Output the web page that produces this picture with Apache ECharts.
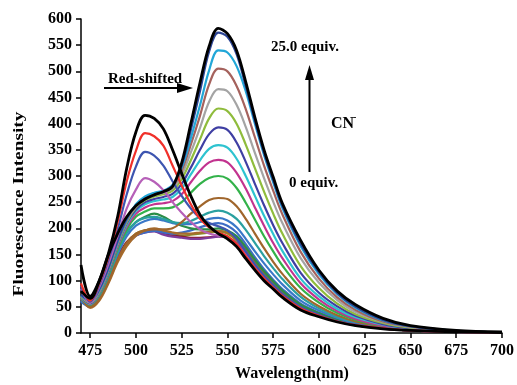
<!DOCTYPE html>
<html><head><meta charset="utf-8">
<script src="https://cdn.jsdelivr.net/npm/echarts@6/dist/echarts.min.js"></script>
<style>html,body{margin:0;padding:0;background:#fff}#c{width:517px;height:385px}</style>
</head><body><div id="c"></div>
<script>
// Wavelength grid (nm)
const wavelengths = [470,475,480,485,490,495,500,505,510,515,520,525,530,535,540,545,550,555,560,565,570,575,580,590,600,610,620,635,650,675,700];
const xTickValues = [475,500,525,550,575,600,625,650,675,700];

// Series (fluorescence intensity)
const blackA  = [130,70,100,152,222,315,384,416,410,390,350,305,262,226,204,190,180,165,142,120,100,84,68,44,31,21,14,8,5,2,1];
const red     = [95,62,96,146,212,290,348,382,376,358,320,282,246,218,202,192,185,170,147,124,104,87,71,47,33,22,15,9,5,2,1];
const blue1   = [90,60,92,140,198,265,318,346,339,320,290,262,238,220,210,204,196,180,156,131,110,92,75,50,35,23,16,9,5,2,1];
const violet  = [85,58,88,132,185,238,274,296,289,273,250,230,212,198,190,186,182,170,149,126,106,89,73,48,34,22,15,9,5,2,1];
const olive   = [68,50,66,100,142,172,190,196,198,194,190,186,188,190,192,194,190,177,156,133,112,94,77,51,36,24,16,9,5,2,1];
const darkred = [64,52,68,102,145,174,188,193,195,190,186,184,182,182,183,185,182,171,151,128,108,90,74,49,34,23,15,9,5,2,1];
const purple  = [62,52,67,100,140,170,186,192,194,188,184,182,180,180,182,184,182,172,152,130,109,91,75,50,35,23,15,9,5,2,1];
const blueL   = [60,50,65,98,138,168,186,192,195,192,190,192,196,202,207,210,205,192,170,145,122,102,84,56,39,26,17,10,6,2,1];
const orangeL = [70,48,62,95,135,166,186,196,200,196,192,190,190,192,194,195,192,181,160,136,114,96,79,52,37,24,16,9,5,2,1];
const dkgreen = [66,54,72,108,155,192,212,222,228,222,212,205,200,198,198,200,196,185,164,140,118,99,81,54,38,25,17,10,6,2,1];
const blue2   = [62,52,70,105,150,185,205,214,218,215,210,208,208,212,218,220,215,202,180,156,133,112,93,62,43,29,19,11,6,2,1];
const teal    = [64,54,72,108,155,192,212,220,222,218,212,210,214,222,230,234,230,218,197,172,147,124,103,69,47,31,21,12,6,2,1];
const brown   = [66,50,64,98,140,172,190,196,198,198,200,212,228,242,254,258,256,242,218,190,162,136,113,75,51,34,22,12,7,2,1];
const green   = [65,54,74,112,160,198,222,232,238,238,240,250,268,285,296,300,295,277,249,217,185,156,129,86,58,38,25,13,7,3,1];
const magenta = [66,55,76,115,164,203,228,240,246,248,252,265,288,310,326,331,326,306,276,240,205,172,143,95,64,42,27,14,8,3,1];
const cyan    = [67,56,77,117,167,207,233,246,252,255,260,276,303,330,352,359,354,333,300,262,224,189,157,104,70,46,30,16,8,3,1];
const indigo  = [68,57,78,118,168,210,236,250,256,260,266,285,316,350,380,393,388,364,327,285,244,206,172,115,77,51,33,17,9,3,1];
const ygreen  = [69,58,79,120,170,212,240,254,261,265,272,294,330,370,410,429,424,400,360,315,270,228,190,128,86,56,36,19,10,3,1];
const grey    = [70,59,80,121,171,214,242,257,264,268,276,302,345,392,442,466,462,436,394,344,296,251,210,143,96,63,40,21,11,4,1];
const rose    = [71,60,81,122,172,215,244,259,266,270,280,310,360,415,475,505,500,472,428,374,320,272,227,155,104,68,44,22,12,4,1];
const cyanblue= [72,61,82,123,174,217,246,261,268,272,283,316,372,435,502,540,536,510,462,400,340,288,239,166,112,74,48,24,13,4,1];
const navy    = [73,62,84,125,176,219,243,256,264,270,281,320,388,462,538,574,566,533,472,405,344,292,243,170,116,76,50,25,13,4,1];
const blackB  = [80,66,100,150,190,222,243,256,264,270,280,325,400,478,548,582,572,540,480,412,350,298,248,177,120,80,54,28,14,5,2];

const seriesList = [
  ['olive', olive, '#8a8c2c', 2.2], ['darkred', darkred, '#8b1c2c', 2.2], ['purple', purple, '#7f3b9b', 2.2],
  ['blueL', blueL, '#3c6cc4', 2.2], ['orangeL', orangeL, '#a86c2c', 2.2], ['dkgreen', dkgreen, '#2b8d47', 2.2],
  ['blue2', blue2, '#3a78c8', 2.2], ['teal', teal, '#2aa0a0', 2.2], ['brown', brown, '#a0662c', 2.2],
  ['green', green, '#33b24a', 2.2], ['magenta', magenta, '#c2338f', 2.2], ['cyan', cyan, '#2ec3d0', 2.2],
  ['indigo', indigo, '#3f3fa3', 2.2], ['ygreen', ygreen, '#8fbc3c', 2.2], ['grey', grey, '#a4a4a4', 2.2],
  ['rose', rose, '#a5625d', 2.2], ['cyanblue', cyanblue, '#22a7d8', 2.2], ['navy', navy, '#2d4595', 2.2],
  ['violet', violet, '#b660b8', 2.2], ['blue1', blue1, '#3d55b0', 2.2], ['red', red, '#f0302a', 2.2],
  ['blackA', blackA, '#000000', 2.8], ['blackB', blackB, '#000000', 2.8]
];

const serif = '"Liberation Serif","Times New Roman",serif';
const chart = echarts.init(document.getElementById('c'), null, {renderer: 'canvas'});
chart.setOption({
  animation: false,
  grid: {left: 81, right: 13, top: 19, bottom: 52},
  xAxis: {
    type: 'value', min: 470, max: 700,
    axisLine: {lineStyle: {color: '#000', width: 1.5}},
    axisTick: {show: true, length: 5, lineStyle: {color: '#000', width: 1.5}, customValues: xTickValues},
    axisLabel: {customValues: xTickValues, color: '#000', fontFamily: serif, fontWeight: 'bold', fontSize: 16, margin: 10},
    splitLine: {show: false}
  },
  yAxis: {
    type: 'value', min: 0, max: 600, interval: 50,
    axisLine: {show: true, lineStyle: {color: '#000', width: 1.5}},
    axisTick: {show: true, length: 5, lineStyle: {color: '#000', width: 1.5}},
    axisLabel: {color: '#000', fontFamily: serif, fontWeight: 'bold', fontSize: 16, margin: 9},
    splitLine: {show: false}
  },
  series: seriesList.map(([name, arr, color, w]) => ({
    name, type: 'line', smooth: 0.35, showSymbol: false, symbol: 'none',
    data: wavelengths.map((x, i) => [x, arr[i]]),
    lineStyle: {color, width: w}, z: color === '#000000' ? 5 : 2
  })),
  graphic: [
    {type: 'text', x: 19, y: 204, rotation: Math.PI / 2, scaleX: 1.38,
     style: {text: 'Fluorescence Intensity', font: 'bold 14px ' + serif, fill: '#000', align: 'center', verticalAlign: 'middle', textAlign: 'center', textVerticalAlign: 'middle'}},
    {type: 'text', x: 292, y: 374,
     style: {text: 'Wavelength(nm)', font: 'bold 16px ' + serif, fill: '#000', align: 'center', verticalAlign: 'middle', textAlign: 'center', textVerticalAlign: 'middle'}},
    {type: 'text', x: 108, y: 79,
     style: {text: 'Red-shifted', font: 'bold 15px ' + serif, fill: '#000', align: 'left', verticalAlign: 'middle', textAlign: 'left', textVerticalAlign: 'middle'}},
    {type: 'line', shape: {x1: 104, y1: 88, x2: 180, y2: 88}, style: {stroke: '#000', lineWidth: 2}},
    {type: 'polygon', shape: {points: [[177, 83], [193, 88], [177, 93]]}, style: {fill: '#000'}},
    {type: 'text', x: 271, y: 47,
     style: {text: '25.0 equiv.', font: 'bold 15px ' + serif, fill: '#000', align: 'left', verticalAlign: 'middle', textAlign: 'left', textVerticalAlign: 'middle'}},
    {type: 'line', shape: {x1: 309.5, y1: 172, x2: 309.5, y2: 78}, style: {stroke: '#000', lineWidth: 2}},
    {type: 'polygon', shape: {points: [[305, 80], [309.5, 65], [314, 80]]}, style: {fill: '#000'}},
    {type: 'text', x: 331, y: 124,
     style: {text: 'CN', font: 'bold 16px ' + serif, fill: '#000', align: 'left', verticalAlign: 'middle', textAlign: 'left', textVerticalAlign: 'middle'}},
    {type: 'text', x: 353, y: 117,
     style: {text: '-', font: 'bold 10px ' + serif, fill: '#000', align: 'left', verticalAlign: 'middle', textAlign: 'left', textVerticalAlign: 'middle'}},
    {type: 'text', x: 289, y: 183,
     style: {text: '0 equiv.', font: 'bold 15px ' + serif, fill: '#000', align: 'left', verticalAlign: 'middle', textAlign: 'left', textVerticalAlign: 'middle'}}
  ]
});
</script>
</body></html>
